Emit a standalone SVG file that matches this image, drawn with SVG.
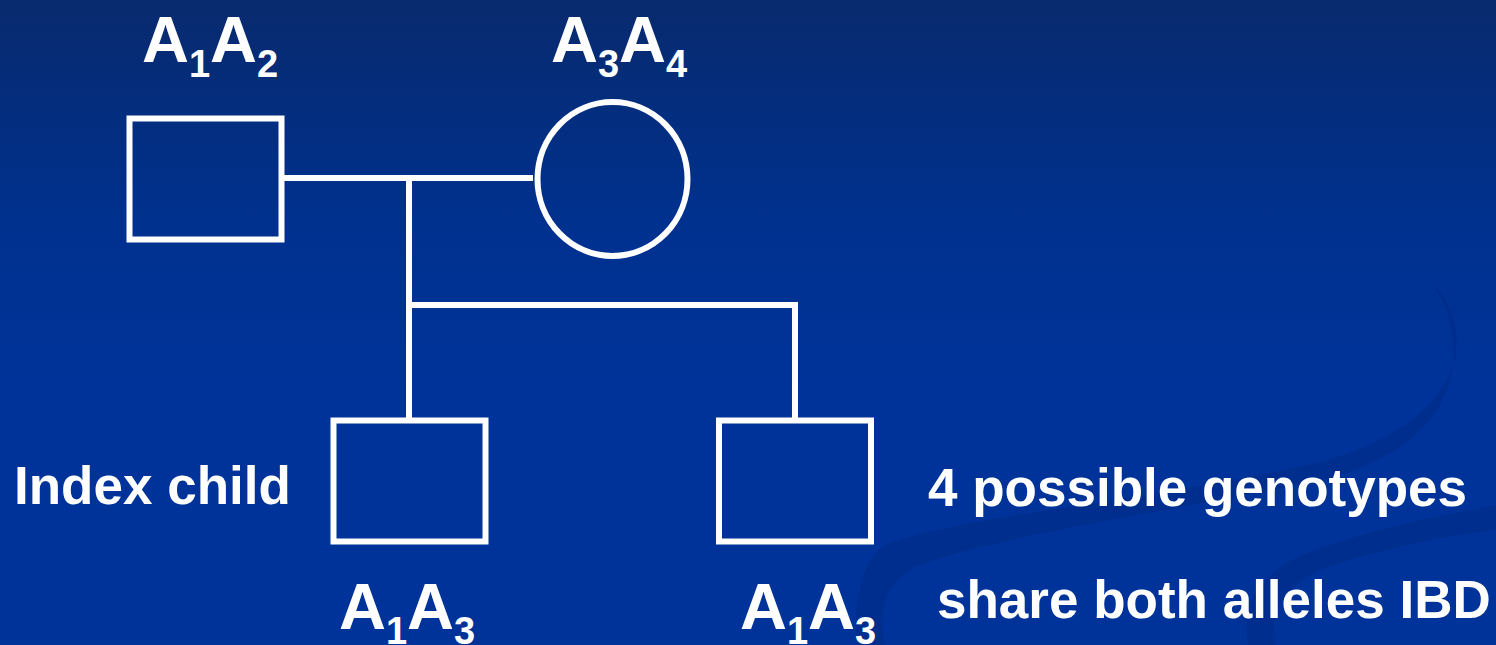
<svg xmlns="http://www.w3.org/2000/svg" width="1496" height="645" viewBox="0 0 1496 645">
<defs>
<linearGradient id="bg" x1="0" y1="0" x2="0" y2="1">
<stop offset="0" stop-color="#082a6e"/>
<stop offset="0.35" stop-color="#00318f"/>
<stop offset="0.6" stop-color="#003399"/>
<stop offset="1" stop-color="#003399"/>
</linearGradient>
<style>
.sym{fill:none;stroke:#ffffff;stroke-width:6}
.ln{fill:none;stroke:#ffffff;stroke-width:6;stroke-linecap:square}
.gt{font-family:"Liberation Sans",Arial,sans-serif;font-weight:bold;font-size:65px;fill:#ffffff}
.sub{font-size:38px}
.lbl{font-family:"Liberation Sans",Arial,sans-serif;font-weight:bold;font-size:53px;fill:#ffffff}
.sw{fill:#00267e;opacity:0.35}
</style>
</defs>
<rect width="1496" height="645" fill="url(#bg)"/>
<g id="swooshes">
<path class="sw" d="M1432 282 C1478 330 1470 420 1320 462 C1160 500 960 515 885 545 C860 560 852 610 858 645 L885 645 C878 610 885 580 920 565 C1000 535 1180 510 1330 478 C1470 440 1470 340 1432 282 Z"/>
<path class="sw" d="M1248 645 C1240 600 1262 565 1330 545 C1400 522 1460 512 1496 505 L1496 530 C1450 535 1380 548 1320 570 C1280 588 1270 615 1275 645 Z"/>
</g>
<g id="connectors">
<line class="ln" x1="283" y1="178" x2="530" y2="178"/>
<line class="ln" x1="409" y1="178" x2="409" y2="305"/>
<line class="ln" x1="409" y1="305" x2="795" y2="305"/>
<line class="ln" x1="409" y1="305" x2="409" y2="418"/>
<line class="ln" x1="795" y1="305" x2="795" y2="418"/>
</g>
<g id="father">
<rect class="sym" x="129.5" y="118.5" width="152" height="121"/>
<text class="gt" x="142" y="62">A<tspan class="sub" dy="15">1</tspan><tspan dy="-15">A</tspan><tspan class="sub" dy="15">2</tspan></text>
</g>
<g id="mother">
<ellipse class="sym" cx="612.5" cy="179" rx="75" ry="77"/>
<text class="gt" x="551" y="62">A<tspan class="sub" dy="15">3</tspan><tspan dy="-15">A</tspan><tspan class="sub" dy="15">4</tspan></text>
</g>
<g id="index-child">
<rect class="sym" x="333.5" y="420.5" width="152" height="121"/>
<text class="lbl" x="14" y="504">Index child</text>
<text class="gt" x="339" y="629">A<tspan class="sub" dy="15">1</tspan><tspan dy="-15">A</tspan><tspan class="sub" dy="15">3</tspan></text>
</g>
<g id="sibling">
<rect class="sym" x="719" y="420.5" width="152" height="121"/>
<text class="gt" x="740" y="629">A<tspan class="sub" dy="15">1</tspan><tspan dy="-15">A</tspan><tspan class="sub" dy="15">3</tspan></text>
<text class="lbl" x="928" y="506">4 possible genotypes</text>
<text class="lbl" x="937" y="618">share both alleles IBD</text>
</g>
</svg>
